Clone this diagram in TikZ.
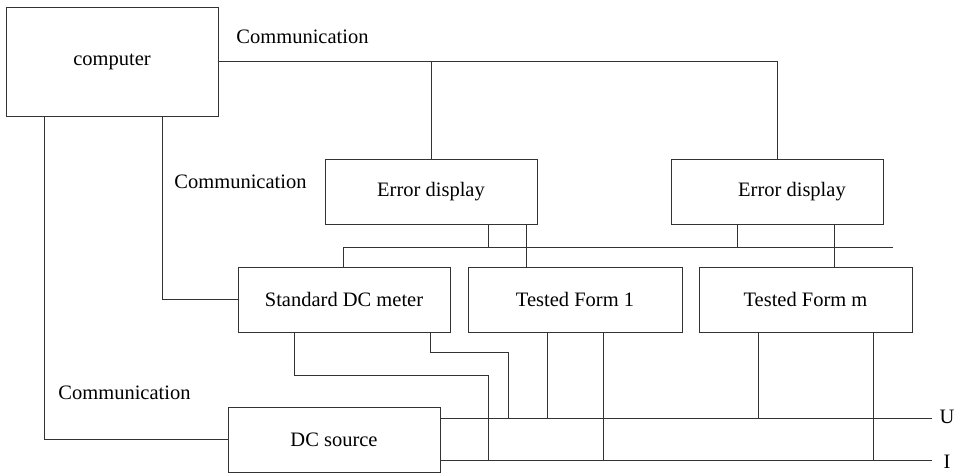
\documentclass[tikz,border=0pt]{standalone}
\usepackage{fontspec}
\setmainfont{Liberation Serif}
\newfontfamily\labelfont{Liberation Serif}
\begin{document}
\begin{tikzpicture}[x=1pt,y=-1pt,
  line width=0.9pt, draw=black!80,
  every node/.style={font=\labelfont\fontsize{20.5}{24}\selectfont, inner sep=0pt},
  unit/.style={draw=black!80, line width=0.9pt, minimum width=212pt, minimum height=65pt},
  lbl/.style={}]
\useasboundingbox (0,0) rectangle (960,473);

% blocks
\node[unit, minimum height=109pt] (comp) at (112,61.5) {computer};
\node[unit] (ed1) at (431,191.5) {Error display};
\node[unit] (ed2) at (777,191.5) {\hspace*{30pt}Error display};
\node[unit] (sdc) at (344,299.5) {Standard DC meter};
\node[unit, minimum width=214pt] (tf1) at (575,299.5) {Tested Form 1};
\node[unit, minimum width=213pt] (tfm) at (805.5,299.5) {Tested Form m};
\node[unit] (dcs) at (334,439.5) {DC source};

% labels
\node[lbl] (c1) at (302.5,37) {Communication};
\node[lbl] (c2) at (240.5,182) {Communication};
\node[lbl] (c3) at (124.5,393) {Communication};
\node[lbl] (lu) at (947,417) {U};
\node[lbl] (li) at (947,462) {I};

% bus end points
\coordinate (busR) at (893,247);
\coordinate (U) at (932,418);
\coordinate (I) at (932,460);

% communication lines
\draw (comp.east) -| (ed2.north);
\draw (ed1.north) -- (ed1.north |- comp.east);
\draw ([xshift=-68pt]comp.south) |- (dcs.west);
\draw ([xshift=50pt]comp.south) |- (sdc.west);

% display bus
\draw ([xshift=-1pt]sdc.north) |- (busR);
\draw ([xshift=57pt]ed1.south) -- ([xshift=57pt]ed1.south |- busR);
\draw ([xshift=95pt]ed1.south) -- ([xshift=95pt]ed1.south |- tf1.north);
\draw ([xshift=-40pt]ed2.south) -- ([xshift=-40pt]ed2.south |- busR);
\draw ([xshift=57pt]ed2.south) -- ([xshift=57pt]ed2.south |- tfm.north);

% U and I lines from the source
\draw ([yshift=21.5pt]dcs.east) -- (U);
\draw ([yshift=-20.5pt]dcs.east) -- (I);

% standard meter to U and I
\draw ([xshift=-50pt]sdc.south) |- (488,375) -- (488,460);
\draw ([xshift=86pt]sdc.south) |- (508,352) -- (508,418);

% tested meters to U and I
\draw ([xshift=-28pt]tf1.south) -- ([xshift=-28pt]tf1.south |- U);
\draw ([xshift=28pt]tf1.south) -- ([xshift=28pt]tf1.south |- I);
\draw ([xshift=-47.5pt]tfm.south) -- ([xshift=-47.5pt]tfm.south |- U);
\draw ([xshift=67.5pt]tfm.south) -- ([xshift=67.5pt]tfm.south |- I);
\end{tikzpicture}
\end{document}
